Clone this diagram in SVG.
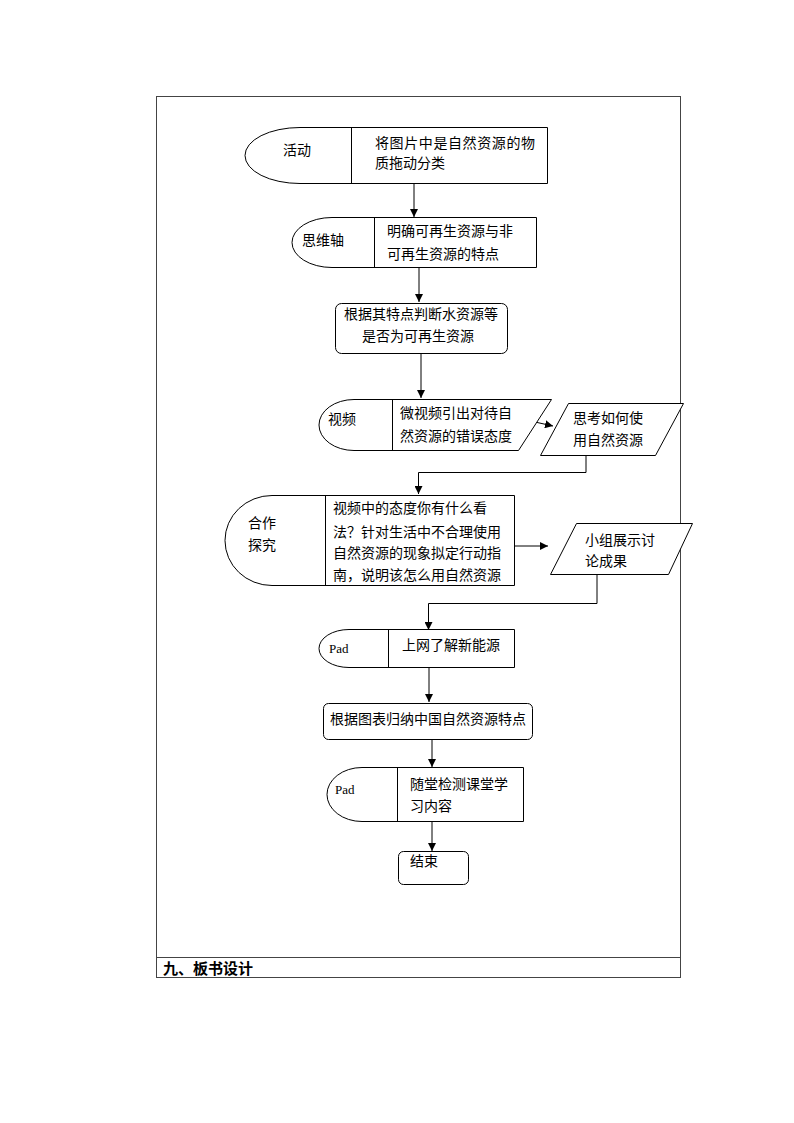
<svg xmlns="http://www.w3.org/2000/svg" width="794" height="1123" viewBox="0 0 794 1123">
<defs>
<style>
.shape{fill:#fff;stroke:#000;stroke-width:1}
.frame{fill:none;stroke:#444;stroke-width:1}
.t{font-family:"Noto Sans CJK SC","Noto Sans",sans-serif;font-size:14px;fill:#000}
.s{font-family:"Liberation Serif",serif;font-size:13px;fill:#000}
.b{font-family:"Noto Sans CJK SC","Noto Sans",sans-serif;font-size:15px;font-weight:bold;fill:#000}
.c{fill:none;stroke:#000;stroke-width:1}
</style>
<marker id="ah" viewBox="0 0 10 10" refX="10" refY="5" markerWidth="8" markerHeight="8" markerUnits="userSpaceOnUse" orient="auto">
<path d="M0,0 L10,5 L0,10 Z" fill="#000"/>
</marker>
</defs>
<rect width="794" height="1123" fill="#fff"/>
<g id="frame">
<rect class="frame" x="156.5" y="96.5" width="524" height="881"/>
<line class="frame" x1="156.5" y1="957.5" x2="680.5" y2="957.5"/>
<text class="b" x="163" y="974">九、板书设计</text>
</g>
<g id="connectors">
<line class="c" x1="414" y1="183" x2="414" y2="217" marker-end="url(#ah)"/>
<line class="c" x1="419" y1="267" x2="419" y2="302" marker-end="url(#ah)"/>
<line class="c" x1="421" y1="353" x2="421" y2="398" marker-end="url(#ah)"/>
<line class="c" x1="535" y1="422" x2="553" y2="426" marker-end="url(#ah)"/>
<polyline class="c" points="586,455 586,472.5 418.5,472.5 418.5,494" marker-end="url(#ah)"/>
<line class="c" x1="514" y1="546" x2="548" y2="546" marker-end="url(#ah)"/>
<polyline class="c" points="597,574 597,603.5 428.5,603.5 428.5,630" marker-end="url(#ah)"/>
<line class="c" x1="429" y1="667" x2="429" y2="702" marker-end="url(#ah)"/>
<line class="c" x1="432" y1="739" x2="432" y2="767" marker-end="url(#ah)"/>
<line class="c" x1="432" y1="821" x2="432" y2="851" marker-end="url(#ah)"/>
</g>
<g id="n1">
<path class="shape" d="M547.5,127.5 H300 A55,28 0 0 0 300,183.5 H547.5 Z"/>
<line class="c" x1="351.5" y1="127.5" x2="351.5" y2="183.5"/>
<text class="t" x="283" y="155">活动</text>
<text class="t" x="375" y="148" textLength="160">将图片中是自然资源的物</text>
<text class="t" x="375" y="168">质拖动分类</text>
</g>
<g id="n2">
<path class="shape" d="M536.5,217.5 H332 A40,25 0 0 0 332,267.5 H536.5 Z"/>
<line class="c" x1="374.5" y1="217.5" x2="374.5" y2="267.5"/>
<text class="t" x="302" y="245">思维轴</text>
<text class="t" x="387" y="236">明确可再生资源与非</text>
<text class="t" x="387" y="259">可再生资源的特点</text>
</g>
<g id="n3">
<rect class="shape" x="335.5" y="303.5" width="172" height="50" rx="6"/>
<text class="t" x="421" y="319" text-anchor="middle">根据其特点判断水资源等</text>
<text class="t" x="418" y="341" text-anchor="middle">是否为可再生资源</text>
</g>
<g id="n4">
<path class="shape" d="M551.5,399.5 H354 A35,25.5 0 0 0 354,450.5 H518.5 Z"/>
<line class="c" x1="392.5" y1="399.5" x2="392.5" y2="450.5"/>
<text class="t" x="328" y="424">视频</text>
<text class="t" x="400" y="418">微视频引出对待自</text>
<text class="t" x="400" y="441">然资源的错误态度</text>
</g>
<g id="n5">
<path class="shape" d="M568.5,403.5 H683.5 L655.5,455.5 H540.5 Z"/>
<text class="t" x="573" y="423">思考如何使</text>
<text class="t" x="573" y="445">用自然资源</text>
</g>
<g id="n6">
<path class="shape" d="M514.5,495.5 H272 A47,45 0 0 0 272,585.5 H514.5 Z"/>
<line class="c" x1="325.5" y1="495.5" x2="325.5" y2="585.5"/>
<text class="t" x="248" y="528">合作</text>
<text class="t" x="248" y="550">探究</text>
<text class="t" x="333" y="513">视频中的态度你有什么看</text>
<text class="t" x="333" y="537">法？针对生活中不合理使用</text>
<text class="t" x="333" y="558">自然资源的现象拟定行动指</text>
<text class="t" x="333" y="580">南，说明该怎么用自然资源</text>
</g>
<g id="n7">
<path class="shape" d="M576.5,523.5 H692.5 L668.5,574.5 H550.5 Z"/>
<text class="t" x="585" y="545">小组展示讨</text>
<text class="t" x="585" y="566">论成果</text>
</g>
<g id="n8">
<path class="shape" d="M514.5,629.5 H349 A30,19 0 0 0 349,667.5 H514.5 Z"/>
<line class="c" x1="388.5" y1="629.5" x2="388.5" y2="667.5"/>
<text class="s" x="329" y="653">Pad</text>
<text class="t" x="451" y="650" text-anchor="middle">上网了解新能源</text>
</g>
<g id="n9">
<rect class="shape" x="323.5" y="703.5" width="209" height="36" rx="5"/>
<text class="t" x="428" y="724" text-anchor="middle">根据图表归纳中国自然资源特点</text>
</g>
<g id="n10">
<path class="shape" d="M523.5,767.5 H362 A35,27 0 0 0 362,821.5 H523.5 Z"/>
<line class="c" x1="397.5" y1="767.5" x2="397.5" y2="821.5"/>
<text class="s" x="335" y="794">Pad</text>
<text class="t" x="410" y="789">随堂检测课堂学</text>
<text class="t" x="410" y="811">习内容</text>
</g>
<g id="n11">
<rect class="shape" x="398.5" y="851.5" width="70" height="33" rx="5"/>
<text class="t" x="410" y="866">结束</text>
</g>
</svg>
